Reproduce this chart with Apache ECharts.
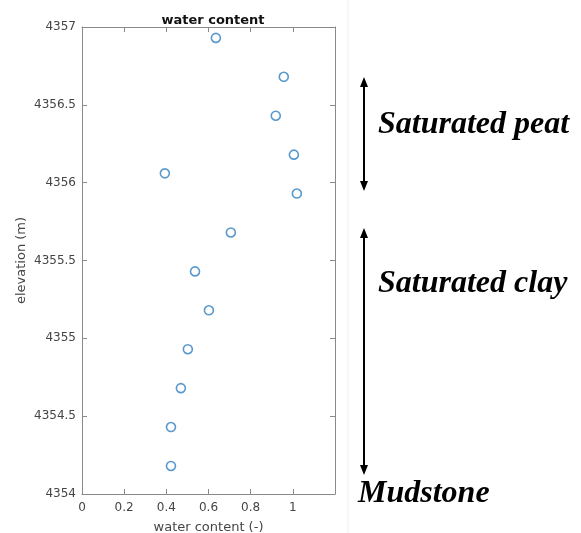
<!DOCTYPE html>
<html>
<head>
<meta charset="utf-8">
<script src="https://cdn.jsdelivr.net/npm/echarts@6/dist/echarts.min.js"></script>
<style>html,body{margin:0;padding:0;background:#fff;}#c{width:581px;height:533px;}</style>
</head>
<body>
<div id="c"></div>
<script>
// Data
const waterContent = [0.635, 0.957, 0.919, 1.005, 0.393, 1.019, 0.706, 0.536, 0.602, 0.502, 0.469, 0.422, 0.422];
const elevation = [4356.93, 4356.68, 4356.43, 4356.18, 4356.06, 4355.93, 4355.68, 4355.43, 4355.18, 4354.93, 4354.68, 4354.43, 4354.18];
const xTicks = [0, 0.2, 0.4, 0.6, 0.8, 1];
const yTicks = [4354, 4354.5, 4355, 4355.5, 4356, 4356.5, 4357];
const layerLabels = ['Saturated peat', 'Saturated clay', 'Mudstone'];

const points = waterContent.map((v, i) => [v, elevation[i]]);
const axisColor = '#8a8a8a';
const labelColor = '#454545';
const font = 'DejaVu Sans, Liberation Sans, sans-serif';

const chart = echarts.init(document.getElementById('c'));

function arrowHead(x, y, dir) {
  return {
    type: 'polygon',
    shape: { points: [[x, y], [x - 4, y - dir * 10], [x + 4, y - dir * 10]] },
    style: { fill: '#000' }
  };
}

const serif = { fontFamily: 'Liberation Serif, Times New Roman, serif', fontStyle: 'italic', fontWeight: 'bold', fontSize: 32, fill: '#000' };
const tick = { show: true, inside: true, length: 5, lineStyle: { color: axisColor, width: 1 } };
const line = { show: true, onZero: false, lineStyle: { color: axisColor, width: 1 } };

chart.setOption({
  animation: false,
  backgroundColor: '#fff',
  title: {
    text: 'water content',
    left: 208, top: 9, textAlign: 'center',
    textStyle: { fontFamily: font, fontWeight: 'bold', fontSize: 13, color: '#111' }
  },
  grid: { left: 82, right: 246, top: 27, bottom: 39, containLabel: false, outerBoundsMode: 'none' },
  xAxis: [{
    type: 'value', min: 0, max: 1.2, interval: 0.2,
    name: 'water content (-)', nameLocation: 'middle', nameGap: 27,
    nameTextStyle: { fontFamily: font, fontSize: 13, color: labelColor },
    axisLine: line, axisTick: tick,
    axisLabel: { fontFamily: font, fontSize: 12, color: labelColor, margin: 8,
      formatter: v => (xTicks.some(t => Math.abs(t - v) < 1e-9) ? String(Math.round(v * 10) / 10) : '') },
    splitLine: { show: false }
  }, {
    type: 'value', position: 'top', min: 0, max: 1.2, interval: 0.2,
    axisLine: line, axisTick: tick,
    axisLabel: { show: false }, splitLine: { show: false }
  }],
  yAxis: [{
    type: 'value', min: 4354, max: 4357, interval: 0.5,
    name: 'elevation (m)', nameLocation: 'middle', nameGap: 54,
    nameTextStyle: { fontFamily: font, fontSize: 13, color: labelColor },
    axisLine: line, axisTick: tick,
    axisLabel: { fontFamily: font, fontSize: 12, color: labelColor, margin: 6,
      formatter: v => { const t = yTicks.find(k => Math.abs(k - v) < 1e-6); return t === undefined ? '' : String(t); } },
    splitLine: { show: false }
  }, {
    type: 'value', position: 'right', min: 4354, max: 4357, interval: 0.5,
    axisLine: line, axisTick: tick,
    axisLabel: { show: false }, splitLine: { show: false }
  }],
  series: [{
    type: 'scatter',
    data: points,
    symbol: 'circle',
    symbolSize: 9,
    itemStyle: { color: 'rgba(0,0,0,0)', borderColor: '#2f7fc1', borderWidth: 1.6 }
  }],
  graphic: [
    { type: 'line', shape: { x1: 348, y1: 0, x2: 348, y2: 533 }, style: { stroke: '#f0f0f0', lineWidth: 1 } },
    { type: 'line', shape: { x1: 364, y1: 80, x2: 364, y2: 188 }, style: { stroke: '#000', lineWidth: 2 } },
    arrowHead(364, 77, -1),
    arrowHead(364, 191, 1),
    { type: 'line', shape: { x1: 364, y1: 231, x2: 364, y2: 472 }, style: { stroke: '#000', lineWidth: 2 } },
    arrowHead(364, 228, -1),
    arrowHead(364, 475, 1),
    { type: 'text', x: 378, y: 141, style: Object.assign({ text: layerLabels[0], verticalAlign: 'bottom' }, serif) },
    { type: 'text', x: 378, y: 300, style: Object.assign({ text: layerLabels[1], verticalAlign: 'bottom' }, serif) },
    { type: 'text', x: 358, y: 510, style: Object.assign({ text: layerLabels[2], verticalAlign: 'bottom' }, serif) }
  ]
});
</script>
</body>
</html>
